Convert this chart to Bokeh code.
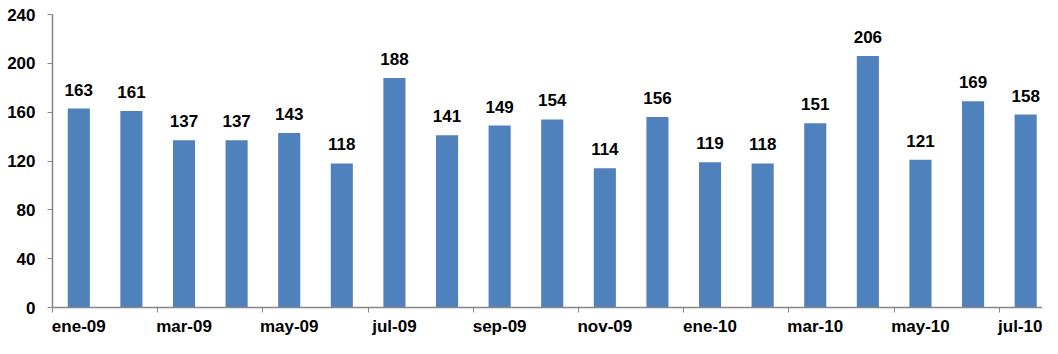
from bokeh.plotting import figure
from bokeh.models import ColumnDataSource, FixedTicker, Range1d, LabelSet
from bokeh.core.properties import value
from bokeh.embed import file_html
from bokeh.resources import INLINE

months = ["ene-09", "feb-09", "mar-09", "abr-09", "may-09", "jun-09", "jul-09",
          "ago-09", "sep-09", "oct-09", "nov-09", "dic-09", "ene-10", "feb-10",
          "mar-10", "abr-10", "may-10", "jun-10", "jul-10"]
values = [163, 161, 137, 137, 143, 118, 188, 141, 149, 154, 114, 156, 119, 118,
          151, 206, 121, 169, 158]
y_ticks = [0, 40, 80, 120, 160, 200, 240]

n = len(months)
xs = [i + 0.5 for i in range(n)]
src = ColumnDataSource(dict(x=xs, top=values, lab=[str(v) for v in values]))

# the last category is partly cut off at the right edge, as in the original
p = figure(width=1042, height=338, output_backend="svg", toolbar_location=None,
           x_range=Range1d(0, n - 0.18), y_range=Range1d(0, 240),
           min_border_left=52, min_border_right=0, min_border_top=14,
           min_border_bottom=29)
p.outline_line_color = None
p.xgrid.grid_line_color = None
p.ygrid.grid_line_color = None

p.vbar(x="x", top="top", width=0.42, bottom=0, source=src,
       fill_color="#4F81BD", line_color=None)

labels = LabelSet(x="x", y="top", text="lab", source=src, text_align="center",
                  text_baseline="alphabetic", y_offset=13,
                  text_font=value("Liberation Sans"), text_font_style="bold",
                  text_font_size="17px", text_color="#000000")
p.add_layout(labels)

# x axis: labels at every other category center, ticks on boundaries
label_pos = [xs[i] for i in range(0, n, 2)]
p.xaxis.ticker = FixedTicker(ticks=label_pos, minor_ticks=list(range(0, n, 2)))
p.xaxis.major_label_overrides = {xs[i]: months[i] for i in range(0, n, 2)}
p.xaxis.major_tick_line_color = None
p.xaxis.minor_tick_line_color = "#868686"
p.xaxis.minor_tick_out = 5
p.xaxis.minor_tick_in = 0
p.xaxis.axis_line_color = "#868686"
p.xaxis.axis_line_width = 1.5
p.xaxis.major_label_text_font = "Liberation Sans"
p.xaxis.major_label_text_font_style = "bold"
p.xaxis.major_label_text_font_size = "17px"
p.xaxis.major_label_text_color = "#000000"
p.xaxis.major_label_standoff = 3

p.yaxis.ticker = FixedTicker(ticks=y_ticks)
p.yaxis.axis_line_color = "#868686"
p.yaxis.axis_line_width = 1.5
p.yaxis.major_tick_line_color = "#868686"
p.yaxis.major_tick_out = 5
p.yaxis.major_tick_in = 0
p.yaxis.minor_tick_line_color = None
p.yaxis.major_label_text_font = "Liberation Sans"
p.yaxis.major_label_text_font_style = "bold"
p.yaxis.major_label_text_font_size = "17px"
p.yaxis.major_label_text_color = "#000000"
p.yaxis.major_label_standoff = 12

open("out.html", "w").write(file_html(p, INLINE))
